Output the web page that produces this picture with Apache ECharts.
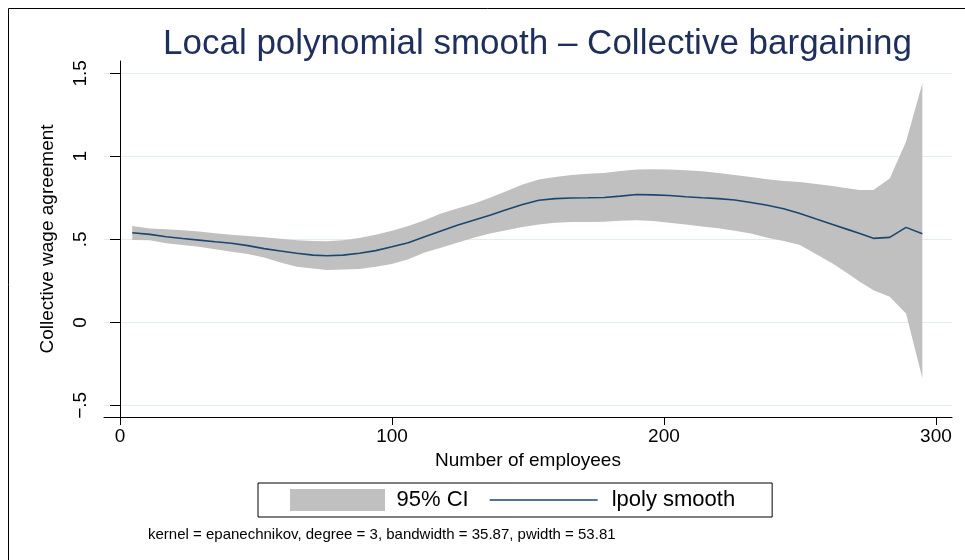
<!DOCTYPE html>
<html>
<head>
<meta charset="utf-8">
<script src="https://cdn.jsdelivr.net/npm/echarts@6/dist/echarts.min.js"></script>
<style>
  html, body { margin: 0; padding: 0; background: #fff; }
  #chart { width: 965px; height: 560px; }
</style>
</head>
<body>
<div id="chart"></div>
<script>
// lpoly grid points (number of employees)
const xVals = [4.5, 11, 17, 23, 29, 35, 41, 47, 53, 59, 65, 71, 76, 82, 88, 94, 100, 106, 112, 118,
  124, 130, 136, 142, 148, 154, 160, 166, 172, 178, 184, 190, 196, 202, 208, 214, 220, 226, 232, 238,
  244, 250, 256, 262, 268, 272, 277, 283, 289, 295];
const smoothVals = [0.54, 0.53, 0.516, 0.505, 0.495, 0.485, 0.476, 0.462, 0.444, 0.43, 0.416, 0.405, 0.401, 0.405, 0.416, 0.432, 0.455, 0.48, 0.515, 0.55,
  0.585, 0.615, 0.645, 0.678, 0.71, 0.735, 0.745, 0.749, 0.75, 0.752, 0.76, 0.77, 0.768, 0.764, 0.756, 0.75, 0.745, 0.737, 0.722, 0.705,
  0.684, 0.655, 0.622, 0.59, 0.557, 0.535, 0.506, 0.512, 0.572, 0.534];
const ciUpper = [0.58, 0.565, 0.56, 0.555, 0.547, 0.537, 0.528, 0.52, 0.512, 0.503, 0.495, 0.49, 0.488, 0.495, 0.508, 0.527, 0.552, 0.58, 0.615, 0.655,
  0.685, 0.715, 0.75, 0.79, 0.83, 0.86, 0.876, 0.888, 0.895, 0.9, 0.912, 0.92, 0.922, 0.921, 0.916, 0.91, 0.9, 0.888, 0.875, 0.862,
  0.852, 0.845, 0.833, 0.821, 0.806, 0.797, 0.797, 0.867, 1.088, 1.44];
const ciLower = [0.496, 0.495, 0.476, 0.466, 0.455, 0.44, 0.425, 0.412, 0.39, 0.36, 0.335, 0.325, 0.315, 0.318, 0.322, 0.335, 0.352, 0.38, 0.42, 0.45,
  0.48, 0.51, 0.535, 0.555, 0.575, 0.59, 0.6, 0.604, 0.604, 0.606, 0.612, 0.615, 0.61, 0.6, 0.59, 0.578, 0.566, 0.552, 0.535, 0.51,
  0.49, 0.466, 0.41, 0.355, 0.29, 0.245, 0.194, 0.154, 0.054, -0.337];

const yTicks = [-0.5, 0, 0.5, 1, 1.5];
const yTickLabels = ['\u2212.5', '0', '.5', '1', '1.5'];
const xTicks = [0, 100, 200, 300];

const font = '"Liberation Sans", Arial, Helvetica, sans-serif';
const ciColor = '#c0c0c0';
const lineColor = '#1a476f';

const chart = echarts.init(document.getElementById('chart'));

// CI band drawn as one polygon through the axis scales
const renderBand = (params, api) => {
  if (params.dataIndex !== 0) return;
  const top = xVals.map((x, i) => api.coord([x, ciUpper[i]]));
  const bottom = xVals.map((x, i) => api.coord([x, ciLower[i]])).reverse();
  return {
    type: 'polygon',
    shape: { points: top.concat(bottom) },
    style: { fill: ciColor }
  };
};

const option = {
  backgroundColor: '#fff',
  animation: false,
  title: {
    text: 'Local polynomial smooth \u2013 Collective bargaining',
    left: 163,
    top: 27,
    padding: 0,
    textStyle: { fontFamily: font, fontSize: 35, fontWeight: 'normal', color: '#1e2f5c' }
  },
  grid: { left: 104, right: 13, top: 61, bottom: 143 },
  legend: {
    data: [
      {
        name: '95% CI',
        icon: 'path://M0,0L95,0L95,22L0,22Z',
        itemStyle: { color: ciColor },
        textStyle: { padding: [0, 0, 0, 0] }
      },
      {
        name: 'lpoly smooth',
        icon: 'path://M0,0L108,0L108,1.6L0,1.6Z',
        itemStyle: { color: lineColor },
        textStyle: { padding: [0, 0, 0, 9] }
      }
    ],
    left: 258,
    top: 483,
    orient: 'horizontal',
    itemWidth: 108,
    itemHeight: 22,
    itemGap: 21,
    symbolKeepAspect: true,
    padding: [6, 37, 6, 32],
    borderColor: '#000',
    borderWidth: 1,
    backgroundColor: '#fff',
    textStyle: { fontFamily: font, fontSize: 22, color: '#000' }
  },
  xAxis: {
    type: 'value',
    min: -5.88,
    max: 305.9,
    name: 'Number of employees',
    nameLocation: 'middle',
    nameGap: 33,
    nameTextStyle: { fontFamily: font, fontSize: 19, color: '#000' },
    axisLine: { onZero: false, lineStyle: { color: '#000', width: 1 } },
    axisTick: { customValues: xTicks, length: 8, lineStyle: { color: '#000' } },
    axisLabel: { customValues: xTicks, margin: 10, fontFamily: font, fontSize: 19, color: '#000' },
    splitLine: { show: false }
  },
  yAxis: {
    type: 'value',
    min: -0.57,
    max: 1.574,
    name: 'Collective wage agreement',
    nameLocation: 'middle',
    nameGap: 47,
    nameRotate: 90,
    nameTextStyle: { fontFamily: font, fontSize: 19, color: '#000' },
    axisLine: { show: true, lineStyle: { color: '#000', width: 1 } },
    axisTick: { show: true, customValues: yTicks, length: 10, lineStyle: { color: '#000' } },
    axisLabel: {
      customValues: yTicks,
      rotate: 90,
      margin: 14,
      fontFamily: font,
      fontSize: 19,
      color: '#000',
      formatter: v => yTickLabels[yTicks.indexOf(v)] ?? ''
    },
    splitLine: { show: true, lineStyle: { color: '#e4eded', width: 1 } }
  },
  series: [
    {
      name: '95% CI',
      type: 'custom',
      silent: true,
      renderItem: renderBand,
      itemStyle: { color: ciColor },
      encode: { x: 0, y: [1, 2] },
      data: xVals.map((x, i) => [x, ciLower[i], ciUpper[i]]),
      z: 1
    },
    {
      name: 'lpoly smooth',
      type: 'line',
      symbol: 'none',
      color: lineColor,
      lineStyle: { color: lineColor, width: 1.6 },
      data: xVals.map((x, i) => [x, smoothVals[i]]),
      z: 2
    }
  ],
  graphic: [
    {
      type: 'rect',
      shape: { x: 8.5, y: 8.5, width: 1000, height: 600 },
      style: { fill: null, stroke: '#000', lineWidth: 1 },
      silent: true,
      z: 100
    },
    {
      type: 'text',
      left: 148,
      top: 527,
      style: {
        text: 'kernel = epanechnikov, degree = 3, bandwidth = 35.87, pwidth = 53.81',
        font: '15px ' + font,
        fill: '#000'
      }
    }
  ]
};

chart.setOption(option);
window.addEventListener('resize', () => chart.resize());
</script>
</body>
</html>
